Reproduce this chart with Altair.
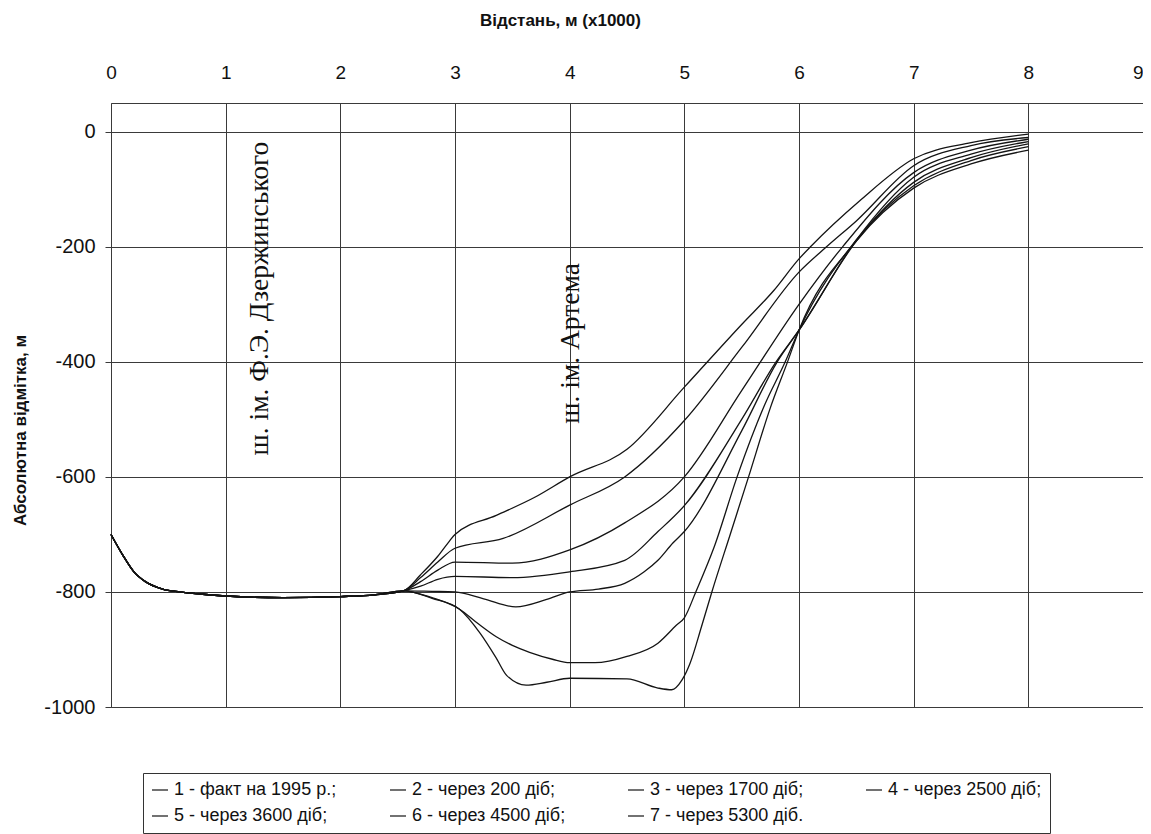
import altair as alt
import pandas as pd

SERIES = [
    "1 - факт на 1995 р.;",
    "2 - через 200 діб;",
    "3 - через 1700 діб;",
    "4 - через 2500 діб;",
    "5 - через 3600 діб;",
    "6 - через 4500 діб;",
    "7 - через 5300 діб.",
]

# shared western part of all profiles (x in km, y in m)
COMMON_X = [0.0, 0.1, 0.2, 0.3, 0.45, 0.6, 0.8, 1.0, 1.5, 2.0, 2.3, 2.55]
COMMON_Y = [-700, -735, -765, -782, -795, -800, -804, -807, -810, -808, -805, -798]

S1_X = [2.8, 3.04, 3.22, 3.36, 3.45, 3.62, 3.8, 4.0, 4.5, 4.77, 4.89, 4.98, 5.05, 5.15, 5.24, 5.4, 5.56, 5.75, 5.9, 6.0, 6.5, 7.0, 7.5, 8.0]
S1_Y = [-811, -830, -872, -915, -945, -962, -957, -950, -951, -967, -970, -953, -924, -860, -800, -700, -600, -480, -400, -345, -190, -98, -56, -32]

S2_X = [2.8, 3.04, 3.2, 3.36, 3.5, 3.65, 3.85, 4.0, 4.22, 4.5, 4.77, 4.93, 5.0, 5.1, 5.26, 5.46, 5.7, 5.88, 6.0, 6.5, 7.0, 7.5, 8.0]
S2_Y = [-810, -830, -855, -878, -893, -905, -917, -923, -923, -912, -889, -858, -845, -800, -722, -600, -475, -400, -345, -188, -94, -50, -26]

S3_X = [2.8, 3.0, 3.25, 3.53, 3.8, 4.0, 4.25, 4.48, 4.65, 4.77, 4.9, 5.0, 5.5, 5.81, 6.0, 6.5, 7.0, 7.5, 8.0]
S3_Y = [-799, -800, -812, -826, -813, -800, -795, -785, -765, -745, -715, -695, -520, -400, -345, -190, -88, -45, -21]

S4_X = [2.7, 2.85, 3.0, 3.5, 4.0, 4.48, 4.77, 5.0, 5.5, 5.8, 6.0, 6.5, 7.0, 7.5, 8.0]
S4_Y = [-790, -778, -773, -775, -765, -745, -695, -650, -500, -400, -345, -188, -79, -39, -17]

S5_X = [2.7, 2.85, 3.0, 3.5, 4.0, 4.48, 5.0, 5.5, 6.0, 6.38, 7.0, 7.5, 8.0]
S5_Y = [-782, -762, -748, -750, -727, -680, -600, -450, -300, -200, -71, -32, -13]

S6_X = [2.7, 2.85, 3.0, 3.42, 4.0, 4.48, 5.0, 5.5, 6.0, 6.24, 6.5, 7.0, 7.5, 8.0]
S6_Y = [-775, -748, -724, -707, -649, -600, -502, -375, -244, -200, -155, -59, -24, -10]

S7_X = [2.7, 2.85, 2.95, 3.0, 3.36, 3.7, 4.0, 4.5, 5.0, 5.5, 5.78, 6.0, 6.1, 6.53, 7.0, 7.5, 8.0]
S7_Y = [-770, -738, -712, -700, -667, -635, -600, -552, -444, -335, -276, -221, -200, -120, -47, -19, -4]

TAILS = [(S1_X, S1_Y), (S2_X, S2_Y), (S3_X, S3_Y), (S4_X, S4_Y),
         (S5_X, S5_Y), (S6_X, S6_Y), (S7_X, S7_Y)]

X_TICKS = [0, 1, 2, 3, 4, 5, 6, 7, 8, 9]
Y_TICKS = [0, -200, -400, -600, -800, -1000]

NOTE_TEXT = ["ш. ім. Ф.Э. Дзержинського", "ш. ім. Артема"]
NOTE_X = [1.30, 4.01]
NOTE_Y = [-290, -368]

rows = []
for name, (tx, ty) in zip(SERIES, TAILS):
    xs = COMMON_X + tx
    ys = COMMON_Y + ty
    for i, (xv, yv) in enumerate(zip(xs, ys)):
        rows.append({"series": name, "x": xv, "y": yv, "i": i})
df = pd.DataFrame(rows)
notes = pd.DataFrame({"label": NOTE_TEXT, "x": NOTE_X, "y": NOTE_Y})

FONT = "Liberation Sans"
GRID = "#3a3a3a"

x_scale = alt.Scale(domain=[0, 9], nice=False, zero=False)
y_scale = alt.Scale(domain=[-1000, 50], nice=False, zero=False)

lines = alt.Chart(df).mark_line(strokeWidth=1.3, interpolate="monotone").encode(
    x=alt.X("x:Q", scale=x_scale,
            axis=alt.Axis(orient="top", values=X_TICKS, title="Відстань, м (x1000)",
                          labelExpr="datum.value + ''",
                          labelAlign={"condition": {"test": "datum.value == 9", "value": "right"},
                                      "value": "center"},
                          grid=True, gridColor=GRID, gridWidth=1, gridOpacity=1,
                          domain=False, ticks=False, labelPadding=21,
                          labelFont=FONT, labelFontSize=19, labelColor="#111",
                          labelFlush=False,
                          titleFont=FONT, titleFontSize=17, titleFontWeight="bold",
                          titleColor="#111", titleX=449, titleY=-83,
                          titleAlign="center", titleBaseline="middle", titleAngle=0)),
    y=alt.Y("y:Q", scale=y_scale,
            axis=alt.Axis(orient="left", values=Y_TICKS, title="Абсолютна відмітка, м",
                          labelExpr="datum.value + ''",
                          grid=True, gridColor=GRID, gridWidth=1, gridOpacity=1,
                          domain=False, ticks=True, tickSize=6, tickColor=GRID,
                          labelPadding=10, labelFont=FONT, labelFontSize=20,
                          labelColor="#111", labelFlush=False,
                          titleFont=FONT, titleFontSize=17, titleFontWeight="bold",
                          titleColor="#111", titleX=-91, titleY=327, titleAngle=270,
                          titleAlign="center", titleBaseline="middle")),
    color=alt.Color("series:N",
                    scale=alt.Scale(domain=SERIES, range=["#141414"] * 7),
                    sort=SERIES,
                    legend=alt.Legend(title=None, orient="none", legendX=32, legendY=670,
                                      columns=4, direction="horizontal",
                                      gridAlign="all", columnPadding=50, rowPadding=8,
                                      symbolType="stroke", symbolSize=256,
                                      symbolStrokeWidth=1.2, labelFont=FONT,
                                      labelFontSize=18, labelColor="#111",
                                      labelOffset=5, labelLimit=400,
                                      fillColor="white", strokeColor="#333",
                                      padding=8)),
    order="i:Q",
)

text = alt.Chart(notes).mark_text(angle=270, font="Liberation Serif", fontSize=27.5,
                                   color="#111", align="center", baseline="middle").encode(
    x=alt.X("x:Q", scale=x_scale),
    y=alt.Y("y:Q", scale=y_scale),
    text="label:N",
)

chart = alt.layer(lines, text).properties(
    width=1032, height=604,
    autosize=alt.AutoSizeParams(type="none"),
    padding={"left": 103, "top": 95, "right": 0, "bottom": 127},
    background="white",
).configure_view(stroke=GRID, strokeWidth=1)

chart.save("out.html", embed_options={"renderer": "svg", "actions": False})
